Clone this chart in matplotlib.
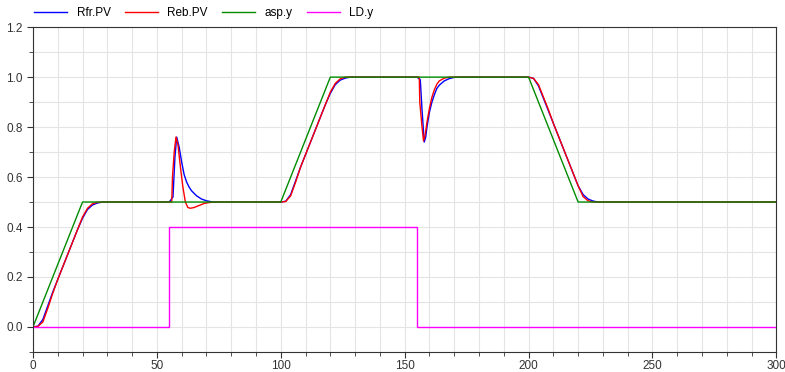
import matplotlib.pyplot as plt
import numpy as np

plt.rcParams['font.family'] = ['Liberation Sans', 'DejaVu Sans']

# setpoint and load
t_sp = [0, 20, 100, 120, 200, 220, 300]
sp = [0, 0.5, 0.5, 1.0, 1.0, 0.5, 0.5]
t_ld = [0, 55, 55, 155, 155, 300]
ld = [0, 0, 0.4, 0.4, 0, 0]

# Rfr.PV (blue)
t_rfr = [0, 2, 4, 6, 8, 10, 12, 14, 16, 18, 20, 22, 24, 26, 28,
         55, 56.5, 57.3, 58, 59, 60, 61, 62, 63, 64, 66, 68, 70, 72, 75,
         100, 102, 104, 106, 108, 110, 112, 114, 116, 118, 120, 122, 124, 126, 128,
         155, 156.3, 157, 157.9, 158.5, 159, 160, 161, 162, 163, 164, 166, 168, 170, 172,
         200, 202, 204, 206, 208, 210, 212, 214, 216, 218, 220, 222, 224, 226, 228, 300]
rfr = [0, 0.003, 0.03, 0.085, 0.14, 0.19, 0.24, 0.29, 0.34, 0.39, 0.435, 0.47, 0.488, 0.496, 0.5,
       0.5, 0.52, 0.68, 0.76, 0.72, 0.66, 0.61, 0.58, 0.56, 0.545, 0.525, 0.512, 0.505, 0.501, 0.5,
       0.5, 0.503, 0.53, 0.585, 0.64, 0.69, 0.74, 0.79, 0.84, 0.89, 0.935, 0.97, 0.988, 0.996, 1.0,
       1.0, 0.99, 0.87, 0.74, 0.76, 0.8, 0.86, 0.9, 0.93, 0.955, 0.968, 0.985, 0.994, 0.999, 1.0,
       1.0, 0.995, 0.965, 0.915, 0.865, 0.815, 0.765, 0.715, 0.665, 0.615, 0.565, 0.53, 0.512, 0.504, 0.5, 0.5]

# Reb.PV (red)
t_reb = [0, 2, 4, 6, 8, 10, 12, 14, 16, 18, 20, 22, 24, 26, 28,
         55, 56, 56.3, 57, 57.7, 58.5, 59.5, 60.5, 61.5, 62.5, 63.5, 65, 67, 69, 71, 74,
         100, 102, 104, 106, 108, 110, 112, 114, 116, 118, 120, 122, 124, 126,
         155, 155.9, 156.1, 157, 157.6, 158.3, 159, 160, 161, 162, 163, 164, 166, 168,
         200, 202, 204, 206, 208, 210, 212, 214, 216, 218, 220, 222, 224, 226, 300]
reb = [0, 0.002, 0.02, 0.075, 0.135, 0.19, 0.24, 0.29, 0.34, 0.39, 0.44, 0.475, 0.493, 0.499, 0.5,
       0.5, 0.5, 0.6, 0.7, 0.76, 0.73, 0.64, 0.56, 0.5, 0.478, 0.475, 0.478, 0.486, 0.494, 0.498, 0.5,
       0.5, 0.502, 0.525, 0.58, 0.64, 0.69, 0.74, 0.79, 0.84, 0.89, 0.94, 0.975, 0.993, 1.0,
       1.0, 1.0, 0.9, 0.8, 0.745, 0.77, 0.82, 0.875, 0.92, 0.95, 0.972, 0.985, 0.996, 1.0,
       1.0, 0.995, 0.97, 0.92, 0.87, 0.815, 0.765, 0.715, 0.665, 0.615, 0.565, 0.522, 0.505, 0.5, 0.5]

fig = plt.figure(figsize=(7.85, 3.72), dpi=100)
ax = fig.add_axes([0.042, 0.054, 0.947, 0.873])

ax.plot(t_rfr, rfr, color='#0000ff', lw=1, label='Rfr.PV')
ax.plot(t_reb, reb, color='#ff0000', lw=1, label='Reb.PV')
ax.plot(t_sp, sp, color='#008c00', lw=1, label='asp.y')
ax.plot(t_ld, ld, color='#ff00ff', lw=1, label='LD.y')

ax.set_xlim(0, 300)
ax.set_ylim(-0.1, 1.2)
ax.set_xticks(np.arange(0, 301, 50))
ax.set_xticks(np.arange(0, 301, 10), minor=True)
ax.set_yticks(np.arange(0, 1.21, 0.2))
ax.set_yticks(np.arange(-0.1, 1.21, 0.1), minor=True)
ax.set_yticklabels(['%.1f' % v for v in np.arange(0, 1.21, 0.2)])
ax.grid(True, which='both', color='#e4e4e4', lw=0.8)
ax.set_axisbelow(True)
ax.tick_params(which='both', labelsize=8.5, colors='#333333', direction='out')
ax.tick_params(which='major', length=4)
ax.tick_params(which='minor', length=3)
ax.tick_params(axis='x', which='major', pad=1.5)
for s in ax.spines.values():
    s.set_color('#333333')
    s.set_linewidth(0.8)

fig.legend(loc='upper left', bbox_to_anchor=(0.03, 1.01), ncol=4, frameon=False,
           fontsize=8.5, handlelength=2.8, columnspacing=1.2)

plt.savefig('out.png', dpi=100)
